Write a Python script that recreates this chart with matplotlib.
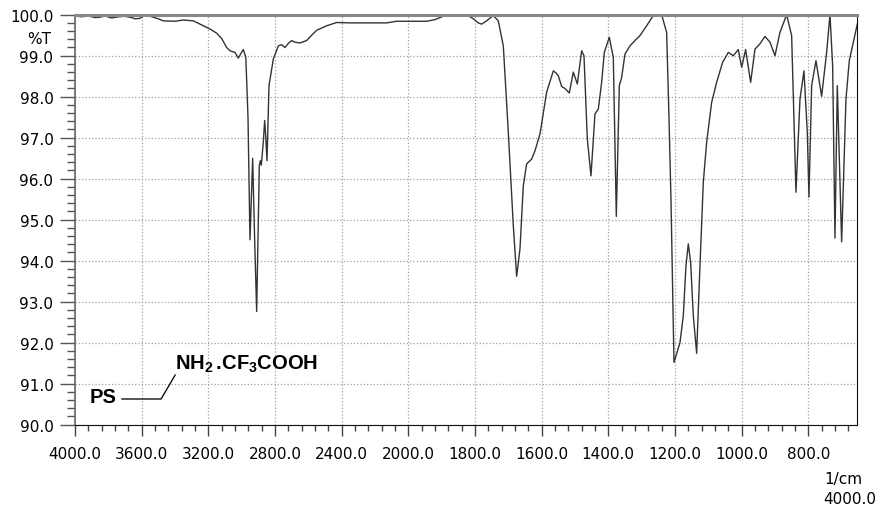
import numpy as np
import matplotlib
matplotlib.use('Agg')
from matplotlib import pyplot as plt
from matplotlib.ticker import FixedLocator, FormatStrFormatter, MultipleLocator

# spectrum (1/cm, %T)
wavenumber = [4000, 3960, 3920, 3880, 3850, 3820, 3780, 3740, 3700, 3660, 3640, 3610,
              3580, 3540, 3500, 3470, 3400, 3350, 3290, 3250, 3210, 3190, 3150, 3120,
              3090, 3070, 3040, 3020, 3005, 2990, 2975, 2962, 2950, 2934, 2922, 2910,
              2900, 2894, 2888, 2882, 2870, 2862, 2855, 2848, 2836, 2810, 2780, 2760,
              2740, 2720, 2700, 2680, 2650, 2610, 2580, 2550, 2490, 2430, 2350, 2270,
              2130, 2070, 2000, 1945, 1920, 1905, 1885, 1825, 1805, 1790, 1780, 1765,
              1745, 1730, 1715, 1700, 1685, 1675, 1665, 1655, 1645, 1630, 1620, 1605,
              1585, 1565, 1557, 1550, 1540, 1530, 1517, 1505, 1493, 1480, 1473, 1463,
              1452, 1440, 1430, 1420, 1412, 1397, 1385, 1376, 1367, 1360, 1350, 1335,
              1320, 1305, 1285, 1265, 1240, 1225, 1218, 1212, 1203, 1185, 1175, 1167,
              1160, 1153, 1145, 1135, 1125, 1115, 1105, 1090, 1075, 1057, 1040, 1025,
              1010, 1000, 988, 973, 960, 945, 930, 915, 900, 885, 865, 850,
              837, 825, 813, 803, 798, 790, 777, 760, 745, 735, 727, 720,
              713, 700, 687, 677, 665, 653]
transmittance = [99.97, 99.95, 99.97, 99.93, 99.94, 99.97, 99.92, 99.95, 99.96, 99.93, 99.90, 99.91,
                 100.0, 99.95, 99.90, 99.85, 99.84, 99.87, 99.85, 99.77, 99.69, 99.65, 99.55, 99.42,
                 99.20, 99.12, 99.08, 98.94, 99.05, 99.15, 98.96, 97.50, 94.51, 96.50, 94.50, 92.76,
                 95.00, 96.32, 96.44, 96.33, 96.90, 97.42, 97.00, 96.44, 98.27, 98.92, 99.24, 99.27,
                 99.20, 99.30, 99.37, 99.33, 99.31, 99.37, 99.50, 99.62, 99.73, 99.81, 99.80, 99.80,
                 99.80, 99.84, 99.84, 99.84, 99.88, 99.93, 100.0, 100.0, 99.90, 99.80, 99.77, 99.85,
                 99.98, 99.85, 99.24, 97.13, 94.85, 93.62, 94.29, 95.83, 96.36, 96.48, 96.68, 97.09,
                 98.11, 98.63, 98.58, 98.51, 98.25, 98.20, 98.09, 98.60, 98.31, 99.12, 99.00, 96.97,
                 96.07, 97.58, 97.70, 98.35, 99.08, 99.45, 98.96, 95.08, 98.27, 98.47, 99.04, 99.24,
                 99.37, 99.49, 99.73, 99.98, 100.0, 99.57, 97.50, 95.50, 91.52, 92.00, 92.66, 93.88,
                 94.41, 93.96, 92.66, 91.74, 93.88, 95.91, 96.89, 97.86, 98.35, 98.84, 99.08, 99.00,
                 99.15, 98.72, 99.15, 98.35, 99.16, 99.29, 99.47, 99.33, 99.00, 99.57, 100.0, 99.49,
                 95.67, 97.94, 98.63, 97.13, 95.55, 98.27, 98.88, 98.01, 99.08, 100.0, 98.76, 94.55,
                 98.27, 94.46, 97.94, 98.88, 99.33, 99.77]

major_x = [4000, 3600, 3200, 2800, 2400, 2000, 1800, 1600, 1400, 1200, 1000, 800]
minor_x = list(range(4000, 2000, -80)) + list(range(2000, 660, -40))


# x scale is compressed by 2 above 2000 1/cm
def fwd(x):
    x = np.asarray(x, dtype=float)
    return np.where(x > 2000, 2000 + (x - 2000) / 2, x)


def inv(t):
    t = np.asarray(t, dtype=float)
    return np.where(t > 2000, 2000 + (t - 2000) * 2, t)


plt.rcParams['font.family'] = 'DejaVu Sans'
plt.rcParams['mathtext.default'] = 'regular'

fig = plt.figure(figsize=(8.8, 5.1), dpi=100)
ax = fig.add_axes([75 / 880, 84.3 / 510, 782.3 / 880, 410 / 510])

ax.plot(wavenumber, transmittance, color='#333333', lw=1.0, clip_on=True)

ax.set_xscale('function', functions=(fwd, inv))
ax.set_xlim(4000, 653)
ax.set_ylim(90, 100)

ax.xaxis.set_major_locator(FixedLocator(major_x))
ax.xaxis.set_minor_locator(FixedLocator(minor_x))
ax.xaxis.set_major_formatter(FormatStrFormatter('%.1f'))
ax.yaxis.set_major_locator(MultipleLocator(1))
ax.yaxis.set_minor_locator(MultipleLocator(0.2))
ax.yaxis.set_major_formatter(FormatStrFormatter('%.1f'))

ax.tick_params(axis='x', which='major', length=8, width=1, pad=7, labelsize=11, color='#444444')
ax.tick_params(axis='x', which='minor', length=4.5, width=1, color='#444444')
ax.tick_params(axis='y', which='major', length=10.5, width=1, pad=5, labelsize=11, color='#555555')
ax.tick_params(axis='y', which='minor', length=6, width=1, color='#555555')

ax.grid(True, which='major', color='#a0a0a0', linestyle=':', linewidth=0.9)

ax.spines['top'].set_color('#888888')
ax.spines['top'].set_linewidth(2.2)
ax.spines['left'].set_color('#666666')
ax.spines['left'].set_linewidth(1.2)
ax.spines['bottom'].set_color('#111111')
ax.spines['right'].set_color('#111111')

fig.text(39 / 880, 1 - 40 / 510, '%T', fontsize=11, ha='center', va='center')
fig.text(843 / 880, 1 - 480 / 510, '1/cm', fontsize=11, ha='center', va='center')
fig.text(850 / 880, 1 - 500 / 510, '4000.0', fontsize=11, ha='center', va='center')

# sample label
ax.text(0.019, 0.069, 'PS', transform=ax.transAxes, fontsize=14.5, fontweight='bold',
        family='Liberation Sans', ha='left', va='center')
ax.plot([0.060, 0.110, 0.128], [0.0627, 0.0627, 0.121], transform=ax.transAxes,
        color='#111111', lw=1.0)
ax.text(0.128, 0.150, r'NH$_2\,$.CF$_3$COOH', transform=ax.transAxes, fontsize=14.5,
        fontweight='bold', family='Liberation Sans', ha='left', va='center')

fig.savefig('out.png', dpi=100)
